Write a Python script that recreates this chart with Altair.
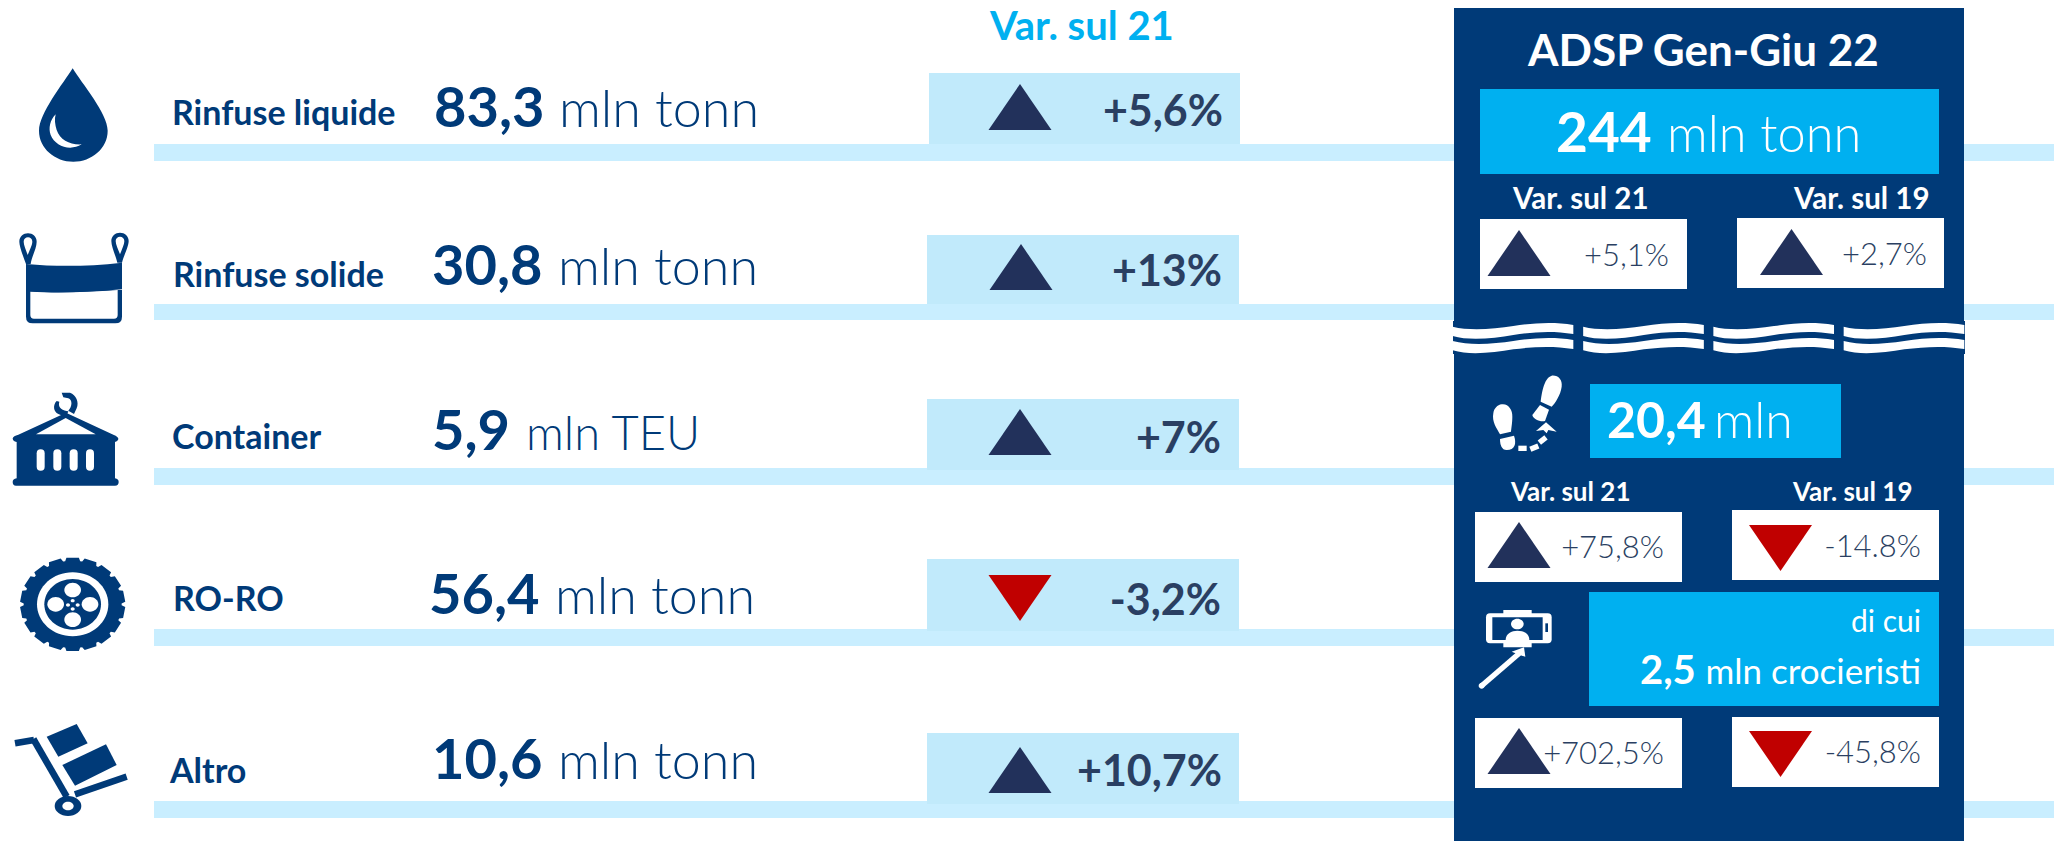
import math
import re

import altair as alt
import pandas as pd

# ---------- values ----------
categorie = ["Rinfuse liquide", "Rinfuse solide", "Container", "RO-RO", "Altro"]
volumi = ["83,3", "30,8", "5,9", "56,4", "10,6"]
unita = ["mln tonn", "mln tonn", "mln TEU", "mln tonn", "mln tonn"]
variazioni = ["+5,6%", "+13%", "+7%", "-3,2%", "+10,7%"]

titolo_colonna = "Var. sul 21"
titolo_pannello = "ADSP Gen-Giu 22"
totale = "244"
totale_unita = "mln tonn"
passeggeri = "20,4"
passeggeri_unita = "mln"
di_cui = "di cui"
crocieristi = "2,5"
crocieristi_unita = "mln crocieristi"
etichette_var = ["Var. sul 21", "Var. sul 19", "Var. sul 21", "Var. sul 19"]
variazioni_pannello = ["+5,1%", "+2,7%", "+75,8%", "-14.8%", "+702,5%", "-45,8%"]

# ---------- layout (pixels of the 2062x841 page; the page margin is 8px) ----------
W, H, MARGIN = 2062, 841, 8
RIGHT = W - MARGIN
NAVY, SKY, BAND, BOX, DARK, RED, INK = "#003A78", "#00B0F0", "#C9EEFF", "#C1EAFB", "#22315B", "#C00000", "#2A3F62"

band_y = [(144, 161), (304, 320), (468, 485), (629, 646), (801, 818)]
box_xy = [(929, 1240, 73, 144), (927, 1239, 235, 304), (927, 1239, 399, 470), (927, 1239, 559, 631), (927, 1239, 733, 804)]
arrow_xy = [(1020, 107), (1021, 267), (1020, 432), (1020, 598), (1020, 770)]
label_xy = [(172, 125), (173, 287), (172, 449), (173, 611), (170, 783)]
number_xy = [(434, 127), (432, 285), (432, 450), (429, 614), (432, 779)]
unit_xy = [(559, 127), (558, 285), (526, 450), (555, 614), (558, 779)]
unit_sizes = [52, 52, 47, 52, 52]
pct_xy = [(1223, 126), (1222, 286), (1221, 453), (1221, 615), (1222, 786)]

white_boxes = [(1480, 1687, 219, 289), (1737, 1944, 218, 288), (1475, 1682, 512, 582),
               (1732, 1939, 510, 580), (1475, 1682, 718, 788), (1732, 1939, 717, 787)]
panel_arrows = [(1519, 253), (1791.5, 252), (1519, 545), (1780.5, 548), (1519, 751), (1780.5, 754)]
panel_pct_xy = [(1669, 266), (1927, 265), (1664, 558), (1921, 557), (1664, 764), (1921, 763)]
panel_lab = [(1513, 209, 29.5), (1794, 209, 29.5), (1511, 501, 26), (1793, 501, 26)]


def rect(x, x2, y, y2, fill):
    return dict(x=x, x2=x2, y=y, y2=y2, fill=fill)


rects = [rect(154, RIGHT, a, b, BAND) for a, b in band_y]
rects.append(rect(1454, 1964, MARGIN, H, NAVY))
rects.append(rect(1453, 1965, 321, 354, NAVY))
rects += [rect(a, b, c, d, BOX) for a, b, c, d in box_xy]
rects.append(rect(1480, 1939, 89, 174, SKY))
rects.append(rect(1590, 1841, 384, 458, SKY))
rects.append(rect(1589, 1939, 592, 706, SKY))
rects += [rect(a, b, c, d, "#FFFFFF") for a, b, c, d in white_boxes]


# ---------- glyph outlines, in 3x crop units ----------
def ell(cx, cy, rx, ry):
    k = 0.5523
    return (f"M{cx-rx},{cy} C{cx-rx},{cy-k*ry} {cx-k*rx},{cy-ry} {cx},{cy-ry} "
            f"C{cx+k*rx},{cy-ry} {cx+rx},{cy-k*ry} {cx+rx},{cy} "
            f"C{cx+rx},{cy+k*ry} {cx+k*rx},{cy+ry} {cx},{cy+ry} "
            f"C{cx-k*rx},{cy+ry} {cx-rx},{cy+k*ry} {cx-rx},{cy} Z")


def pill(x0, x1, y0, y1):
    r = (x1 - x0) / 2
    return (f"M{x0},{y0+r} Q{x0},{y0} {x0+r},{y0} Q{x1},{y0} {x1},{y0+r} L{x1},{y1-r} "
            f"Q{x1},{y1} {x0+r},{y1} Q{x0},{y1} {x0},{y1-r} Z")


def seg(x0, y0, x1, y1, w):
    dx, dy = x1 - x0, y1 - y0
    n = math.hypot(dx, dy)
    ox, oy = -dy / n * w / 2, dx / n * w / 2
    return f"M{x0+ox:.1f},{y0+oy:.1f} L{x1+ox:.1f},{y1+oy:.1f} L{x1-ox:.1f},{y1-oy:.1f} L{x0-ox:.1f},{y0-oy:.1f} Z"


def box(x0, x1, y0, y1):
    return f"M{x0},{y0} L{x1},{y0} L{x1},{y1} L{x0},{y1} Z"


def tread(cx, cy, rx, ry, lobes=18):
    pts = []
    for i in range(lobes):
        for frac, f in ((0.06, 0.93), (0.16, 1.0), (0.84, 1.0), (0.94, 0.93)):
            t = (i + frac) / lobes * 2 * math.pi
            pts.append(f"{cx+rx*f*math.cos(t):.1f},{cy+ry*f*math.sin(t):.1f}")
    return "M" + " L".join(pts) + " Z"


glyphs = []


def add(path, origin, fill):
    glyphs.append(dict(path=path, x=origin[0], y=origin[1], fill=fill))


# drop and bag
o = (0, 60)
add("M218,25 C245,70 323,160 323,212 C323,265 275,305 220,305 C165,305 117,265 117,212 C117,160 190,70 218,25 Z", o, NAVY)
add("M167,163 C150,180 145,205 152,225 C165,258 210,275 245,253 C210,255 180,240 170,210 C165,195 163,178 167,163 Z", o, "#FFFFFF")
add("M78,690 L78,770 Q78,790 98,790 L346,790 Q366,790 366,770 L366,690 Z", o, NAVY)
add("M91,695 L91,765 Q91,776 102,776 L342,776 Q353,776 353,765 L353,690 C260,697 170,700 91,695 Z", o, "#FFFFFF")
add("M78,612 C170,620 260,620 366,608 L366,688 C260,697 170,700 78,692 Z", o, NAVY)
add("M92,612 L78,612 C70,590 58,560 58,545 C58,530 70,520 84,520 C98,520 110,530 110,545 C110,565 95,590 92,612 Z", o, NAVY)
add("M83,585 C78,570 71,555 71,545 C71,537 77,532 84,532 C91,532 97,537 97,545 C97,555 88,572 83,585 Z", o, "#FFFFFF")
add("M352,608 L366,608 C370,590 386,560 386,543 C386,528 374,518 360,518 C346,518 334,528 334,543 C334,560 348,590 352,608 Z", o, NAVY)
add("M360,583 C354,568 347,553 347,543 C347,535 353,530 360,530 C367,530 373,535 373,543 C373,553 365,570 360,583 Z", o, "#FFFFFF")

# container
o = (0, 340)
add("M198,218 L340,284 Q356,290 355,298 Q352,306 345,306 L345,415 Q356,417 356,426 Q356,437 345,437 L48,437 "
    "Q38,437 38,426 Q38,417 50,415 L50,306 Q38,304 38,295 Q40,288 55,284 Z", o, NAVY)
add("M108,283 L197,234 L287,283 Z", o, "#FFFFFF")
for a in (110, 160, 209, 258):
    add(pill(a, a + 24, 328, 392), o, "#FFFFFF")
add("M185,158 L210,158 C228,165 238,185 230,205 L222,222 L205,212 C217,200 218,180 205,175 L190,172 Z", o, NAVY)
add("M178,185 L170,183 C158,195 160,215 175,222 L198,232 L205,214 C190,212 172,205 178,185 Z", o, NAVY)

# wheel
o = (0, 545)
add(tread(218, 178, 158, 141), o, NAVY)
add(ell(218, 178, 107, 96), o, "#FFFFFF")
add(ell(218, 178, 85, 76), o, NAVY)
for a, b in ((218, 135), (218, 224), (167, 178), (270, 178)):
    add(ell(a, b, 25, 22), o, "#FFFFFF")
for a, b in ((218, 167), (218, 192), (204, 180), (233, 180)):
    add(ell(a, b, 6, 5), o, "#FFFFFF")

# trolley
add(seg(45, 595, 102, 585, 20), o, NAVY)
add(seg(100, 582, 200, 755, 20), o, NAVY)
add(seg(225, 748, 380, 695, 20), o, NAVY)
add("M140,575 L230,537 L263,595 L175,635 Z", o, NAVY)
add("M187,660 L318,598 L350,660 L225,722 Z", o, NAVY)
add(ell(204, 783, 40, 30), o, NAVY)
add(ell(204, 783, 17, 13), o, "#FFFFFF")

# waves
wave_top = "M8,35 C60,48 130,42 190,33 C250,24 310,20 370,30 L370,57 C310,47 250,50 190,60 C130,70 60,78 8,63 Z"
wave_low = "M8,78 C60,92 130,87 190,78 C250,69 310,65 370,75 L370,102 C310,92 250,95 190,103 C130,113 60,122 8,106 Z"
for a in (1450, 1580.5, 1710.7, 1841):
    add(wave_top, (a, 315), "#FFFFFF")
    add(wave_low, (a, 315), "#FFFFFF")

# footsteps
o = (1450, 315)
add("M305,182 C325,180 338,195 335,215 C332,240 315,265 305,275 L272,260 C275,240 280,190 305,182 Z", o, "#FFFFFF")
add("M270,270 L297,284 L285,318 C270,322 250,312 247,300 Z", o, "#FFFFFF")
add("M155,268 C175,265 188,285 187,305 C187,325 183,345 183,350 L150,358 C140,340 125,320 130,295 C132,280 142,270 155,268 Z", o, "#FFFFFF")
add("M150,372 L192,362 C200,385 195,405 170,405 C155,405 150,390 150,372 Z", o, "#FFFFFF")
add(seg(205, 400, 230, 400, 16), o, "#FFFFFF")
add(seg(241, 403, 265, 393, 16), o, "#FFFFFF")
add(seg(268, 383, 288, 367, 16), o, "#FFFFFF")
add("M288,322 L320,350 L295,345 L290,355 L280,345 L258,348 Z", o, "#FFFFFF")

# selfie stick
o = (1460, 590)
add(box(130, 215, 60, 172), o, "#FFFFFF")
add("M90,70 L263,70 Q275,70 275,82 L275,148 Q275,160 263,160 L90,160 Q78,160 78,148 L78,82 Q78,70 90,70 Z", o, "#FFFFFF")
add(box(97, 248, 82, 150), o, NAVY)
add(ell(172, 102, 19, 16), o, "#FFFFFF")
add("M137,150 C137,130 155,122 172,122 C190,122 208,130 208,150 Z", o, "#FFFFFF")
add(box(256, 264, 100, 126), o, NAVY)
add("M155,185 L192,172 L196,200 L182,196 Z", o, "#FFFFFF")
add(seg(178, 190, 65, 287, 16), o, "#FFFFFF")
add(ell(65, 287, 9, 9), o, "#FFFFFF")

# triangles, centred on their position
UP = "M-94.5,69 L94.5,69 L0,-69 Z"
DOWN = "M-94.5,-69 L94.5,-69 L0,69 Z"
for (a, b), v in zip(arrow_xy + panel_arrows, variazioni + variazioni_pannello):
    up = v.startswith("+")
    add(UP if up else DOWN, (a, b), DARK if up else RED)


def unit(path):
    return re.sub(r"-?\d+\.?\d*", lambda m: f"{float(m.group())/300:.4f}", path)


glyph_df = pd.DataFrame(glyphs)
glyph_df["path"] = glyph_df["path"].map(unit)


# ---------- text ----------
def t(text, x, y, size, color, align="left"):
    return dict(text=text, x=x, y=y, size=size, color=color, align=align)


bold = [t(titolo_colonna, 990, 40, 40, SKY), t(titolo_pannello, 1528, 66, 44, "#FFFFFF"),
        t(totale, 1556, 152, 55, "#FFFFFF"), t(passeggeri, 1607, 438, 50, "#FFFFFF"),
        t(crocieristi, 1640, 684, 40, "#FFFFFF")]
for c, (a, b) in zip(categorie, label_xy):
    bold.append(t(c, a, b, 34, NAVY))
for c, (a, b) in zip(volumi, number_xy):
    bold.append(t(c, a, b, 56, NAVY))
for c, (a, b) in zip(variazioni, pct_xy):
    bold.append(t(c, a, b, 43, INK, "right"))
for c, (a, b, s) in zip(etichette_var, panel_lab):
    bold.append(t(c, a, b, s, "#FFFFFF"))

light = [t(totale_unita, 1667, 152, 50.5, "#FFFFFF"), t(passeggeri_unita, 1714, 438, 50, "#FFFFFF")]
for c, (a, b), s in zip(unita, unit_xy, unit_sizes):
    light.append(t(c, a, b, s, NAVY))
for c, (a, b) in zip(variazioni_pannello, panel_pct_xy):
    light.append(t(c, a, b, 31, INK, "right"))

regular = [t(di_cui, 1921, 632, 30, "#FFFFFF", "right"), t(crocieristi_unita, 1921, 684, 35, "#FFFFFF", "right")]

X = alt.X("x:Q", axis=None, scale=alt.Scale(domain=[MARGIN, RIGHT], nice=False, zero=False))
Y = alt.Y("y:Q", axis=None, scale=alt.Scale(domain=[MARGIN, H], nice=False, zero=False, reverse=True))
FILL = alt.Color("fill:N", scale=None, legend=None)


def text_layer(rows, weight, align):
    sel = [r for r in rows if r["align"] == align]
    return alt.Chart(pd.DataFrame(sel)).mark_text(
        font="Lato", fontWeight=weight, baseline="alphabetic", align=align
    ).encode(x=X, y=Y, text="text:N",
             size=alt.Size("size:Q", scale=None, legend=None),
             color=alt.Color("color:N", scale=None, legend=None))


rect_layer = alt.Chart(pd.DataFrame(rects)).mark_rect(strokeWidth=0).encode(x=X, x2="x2:Q", y=Y, y2="y2:Q", color=FILL)
glyph_layer = alt.Chart(glyph_df).mark_point(filled=True, opacity=1, strokeWidth=0).encode(
    x=X, y=Y, color=FILL,
    shape=alt.Shape("path:N", scale=None, legend=None),
    size=alt.value(40000),
)

chart = alt.layer(
    rect_layer,
    glyph_layer,
    text_layer(bold, 700, "left"),
    text_layer(bold, 700, "right"),
    text_layer(light, 300, "left"),
    text_layer(light, 300, "right"),
    text_layer(regular, 400, "right"),
).properties(
    width=RIGHT - MARGIN, height=H - MARGIN, padding=0,
    autosize=alt.AutoSizeParams(type="none"),
).configure_view(stroke=None)

chart.save("out.html", embed_options={"renderer": "svg", "actions": False})
